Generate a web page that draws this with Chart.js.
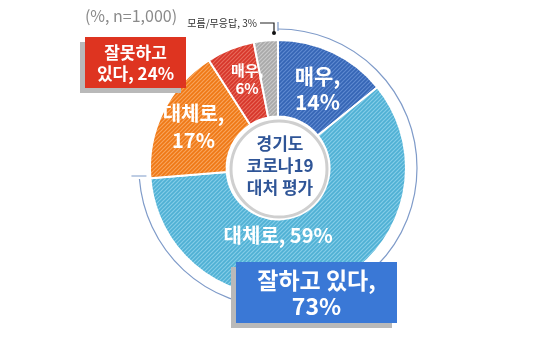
<!DOCTYPE html>
<html><head><meta charset="utf-8">
<script src="https://cdn.jsdelivr.net/npm/chart.js@4/dist/chart.umd.min.js"></script>
<style>html,body{margin:0;padding:0;background:#fff;}#wrap{width:553px;height:343px;position:relative;}</style>
</head><body><div id="wrap"><canvas id="c" width="553" height="343"></canvas></div>
<script>
// ---- data ----
const categories = ['매우 잘하고 있다','대체로 잘하고 있다','대체로 잘못하고 있다','매우 잘못하고 있다','모름/무응답'];
const values = [14, 59, 17, 6, 3];
const sliceLabels = [['매우,','14%'], ['대체로, 59%'], ['대체로,','17%'], ['매우,','6%'], []];
const centerTitle = ['경기도','코로나19','대처 평가'];
const goodLabel = ['잘하고 있다,','73%'];
const badLabel = ['잘못하고','있다, 24%'];
const dkLabel = '모름/무응답, 3%';
const noteLabel = '(%, n=1,000)';

// ---- styles ----
const baseColors = ['#3565b5','#4fb0d4','#ef7815','#d7362a','#a9a9a9'];
const stripeColors = ['#5f8ad0','#84cde8','#f8a45c','#e86a5c','#cacaca'];
const labelFont = [21, 20, 20, 15, 0];
const labelLH = [26, 0, 27, 18, 0];
const labelPlace = [{r:88,da:1.2},{r:67,da:21.7},{r:94,da:-0.4},{r:93.7,da:2.6},null];
const FONT = '"Noto Sans CJK KR","Noto Sans",sans-serif';

function hatch(base, stripe){
  const p = document.createElement('canvas'); p.width = 4; p.height = 4;
  const g = p.getContext('2d');
  g.fillStyle = base; g.fillRect(0,0,4,4);
  g.strokeStyle = stripe; g.lineWidth = 1.2;
  g.beginPath();
  g.moveTo(0,4); g.lineTo(4,0);
  g.moveTo(-1,1); g.lineTo(1,-1);
  g.moveTo(3,5); g.lineTo(5,3);
  g.stroke();
  return g.createPattern(p,'repeat');
}
const ctx = document.getElementById('c').getContext('2d');
const fills = baseColors.map((b,i)=>hatch(b, stripeColors[i]));

function box(c, x, y, w, h, fill, lines, size, lineYs){
  c.fillStyle = '#b9b9b9';
  c.fillRect(x-5, y+5, w, h);
  c.fillStyle = fill;
  c.fillRect(x, y, w, h);
  c.fillStyle = '#fff';
  c.font = 'bold ' + size + 'px ' + FONT;
  c.textAlign = 'center'; c.textBaseline = 'middle';
  lines.forEach((t,i)=>c.fillText(t, x + w/2, lineYs[i]));
}

const deco = {
  id: 'deco',
  afterDatasetsDraw(chart){
    const c = chart.ctx;
    const arcs = chart.getDatasetMeta(0).data;
    const cx = arcs[0].x, cy = arcs[0].y;
    const R = arcs[0].outerRadius;
    c.save();
    // inner circle
    c.beginPath(); c.arc(cx+1, cy+1, 48, 0, Math.PI*2);
    c.fillStyle = '#fff'; c.fill();
    c.lineWidth = 3; c.strokeStyle = '#cfcfcf'; c.stroke();
    c.fillStyle = '#2f5597';
    c.font = 'bold 17px ' + FONT; c.textAlign = 'center'; c.textBaseline = 'middle';
    centerTitle.forEach((t,i)=>c.fillText(t, cx+2, cy - 24 + i*22));
    // slice labels
    arcs.forEach((a,i)=>{
      const pl = labelPlace[i]; if(!pl || !sliceLabels[i].length) return;
      const mid = (a.startAngle + a.endAngle)/2 + pl.da*Math.PI/180;
      const x = cx + pl.r*Math.cos(mid), y = cy + pl.r*Math.sin(mid);
      c.fillStyle = '#fff';
      c.font = 'bold ' + labelFont[i] + 'px ' + FONT;
      const lh = labelLH[i];
      const n = sliceLabels[i].length;
      sliceLabels[i].forEach((t,k)=>c.fillText(t, x, y + (k-(n-1)/2)*lh));
    });
    // outer arc over "good" group (first two slices)
    const rA = R + 11;
    c.strokeStyle = '#7f9bc9'; c.lineWidth = 1.2;
    c.beginPath(); c.arc(cx, cy, rA, arcs[0].startAngle, arcs[1].endAngle); c.stroke();
    // end ticks
    const a0 = arcs[0].startAngle, a1 = arcs[1].endAngle;
    c.beginPath();
    c.moveTo(cx + rA*Math.cos(a0), cy + rA*Math.sin(a0) - 7);
    c.lineTo(cx + rA*Math.cos(a0), cy + rA*Math.sin(a0) + 2);
    c.moveTo(cx + rA*Math.cos(a1) - 8, cy + rA*Math.sin(a1) - 3);
    c.lineTo(cx + rA*Math.cos(a1) + 7, cy + rA*Math.sin(a1) - 3);
    c.stroke();
    // don't know leader
    const dk = arcs[4];
    const dkx = cx + (R+7)*Math.cos(dk.endAngle) - 4;
    c.fillStyle = '#333'; c.font = '10px ' + FONT; c.textAlign = 'right';
    c.fillText(dkLabel, dkx - 17, cy - R - 17);
    c.strokeStyle = '#222'; c.lineWidth = 1.2;
    c.beginPath(); c.moveTo(dkx - 14, cy - R - 17); c.lineTo(dkx, cy - R - 17); c.lineTo(dkx, cy - R - 7); c.stroke();
    c.beginPath(); c.arc(dkx, cy - R - 7, 2, 0, Math.PI*2); c.fillStyle = '#111'; c.fill();
    // note
    c.fillStyle = '#8a8a8a'; c.font = '16px ' + FONT; c.textAlign = 'center';
    c.fillText(noteLabel, 131, 16);
    // boxes
    box(c, 85, 37, 101, 51, '#de3420', badLabel, 17, [53, 74]);
    box(c, 236, 262, 161, 61, '#3a78d6', goodLabel, 23, [280, 306]);
    c.restore();
  }
};

new Chart(ctx, {
  type: 'doughnut',
  data: {
    labels: categories,
    datasets: [{ data: values, backgroundColor: fills, borderColor: '#ffffff', borderWidth: 2 }]
  },
  options: {
    responsive: false,
    animation: false,
    radius: 128,
    cutout: 51,
    layout: { padding: { left: 150, right: 147, top: 40, bottom: 47 } },
    plugins: { legend: { display: false }, tooltip: { enabled: false } }
  },
  plugins: [deco]
});
</script></body></html>
